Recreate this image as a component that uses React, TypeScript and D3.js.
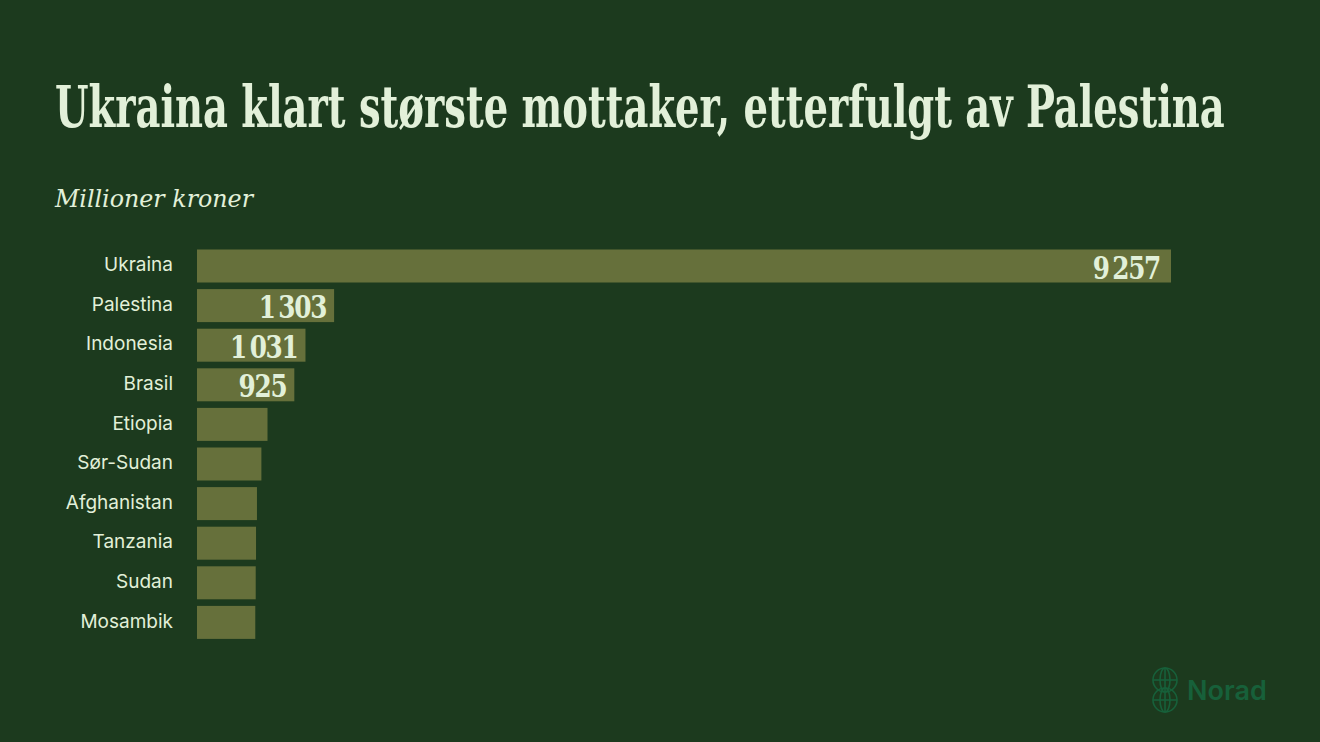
import React, { useLayoutEffect, useRef, useState } from "react";
import * as d3 from "d3";

const countries = ["Ukraina", "Palestina", "Indonesia", "Brasil", "Etiopia", "Sør-Sudan", "Afghanistan", "Tanzania", "Sudan", "Mosambik"];
const values = [9257, 1303, 1031, 925, 670, 612, 570, 561, 558, 554];
const shownLabels = [true, true, true, true, false, false, false, false, false, false];

const W = 1320;
const H = 742;
const BG = "#1c3a1e";
const BAR = "#66703b";
const TXT = "#e2f0d9";
const LOGO = "#17603a";
const TITLE = "Ukraina klart største mottaker, etterfulgt av Palestina";
const SUBTITLE = "Millioner kroner";

export default function App() {
  const titleRef = useRef<SVGTextElement>(null);
  const subRef = useRef<SVGTextElement>(null);
  const [ts, setTs] = useState(0.8);
  const [ss, setSs] = useState(0.85);
  useLayoutEffect(() => {
    if (titleRef.current) {
      const w = titleRef.current.getComputedTextLength();
      if (w > 0) setTs(1170 / w);
    }
    if (subRef.current) {
      const w = subRef.current.getComputedTextLength();
      if (w > 0) setSs(198 / w);
    }
  }, []);
  const x = d3.scaleLinear().domain([0, 9257]).range([197, 1171]);
  const y = d3.scaleBand().domain(countries).range([249.5, 638.9]).paddingInner(0.1667).paddingOuter(0);
  const fmt = (v: number) => d3.format(",")(v).replace(/,/g, "\u2009");
  return (
    <svg width={W} height={H} style={{ position: "fixed", left: 0, top: 0 }}>
      <rect x={0} y={0} width={W} height={H} fill={BG} />
      <g transform={`translate(55,127) scale(${ts},1)`}>
        <text ref={titleRef} x={0} y={0} fill={TXT} fontFamily="'DejaVu Serif Condensed', 'DejaVu Serif', serif" fontWeight="bold" fontSize={57}>
          {TITLE}
        </text>
      </g>
      <g transform={`translate(55,207) scale(${ss},1)`}>
        <text ref={subRef} x={0} y={0} fill={TXT} fontFamily="'DejaVu Serif Condensed', 'DejaVu Serif', serif" fontStyle="italic" fontSize={25}>
          {SUBTITLE}
        </text>
      </g>
      {countries.map((c, i) => {
        const cy = (y(c) as number) + y.bandwidth() / 2;
        return (
          <g key={c}>
            <rect x={x(0)} y={y(c)} width={x(values[i]) - x(0)} height={y.bandwidth()} fill={BAR} />
            <text x={173} y={cy - 1.5} dy="0.35em" textAnchor="end" fill={TXT} fontFamily="Inter, 'Noto Sans', sans-serif" fontSize={19}>
              {c}
            </text>
            {shownLabels[i] && (
              <g transform={`translate(${x(values[i]) - (i === 0 ? 11 : 8)},${cy + 1}) scale(0.86,1)`}>
                <text x={0} y={0} dy="0.36em" textAnchor="end" fill={TXT} fontFamily="'DejaVu Serif Condensed', 'DejaVu Serif', serif" fontWeight="bold" fontSize={32} letterSpacing={-1.5}>
                  {fmt(values[i])}
                </text>
              </g>
            )}
          </g>
        );
      })}
      <g transform="translate(1165,690)" fill="none" stroke={LOGO} strokeWidth={1.6}>
        <circle cx={0} cy={-10} r={12} />
        <circle cx={0} cy={10} r={12} />
        <ellipse cx={0} cy={-10} rx={5} ry={12} />
        <ellipse cx={0} cy={10} rx={5} ry={12} />
        <line x1={-12} y1={-10} x2={12} y2={-10} />
        <line x1={-12} y1={10} x2={12} y2={10} />
        <line x1={0} y1={-22} x2={0} y2={22} />
      </g>
      <text x={1187} y={700} fill={LOGO} fontFamily="Inter, 'Noto Sans', sans-serif" fontWeight="600" fontSize={27}>
        Norad
      </text>
    </svg>
  );
}
